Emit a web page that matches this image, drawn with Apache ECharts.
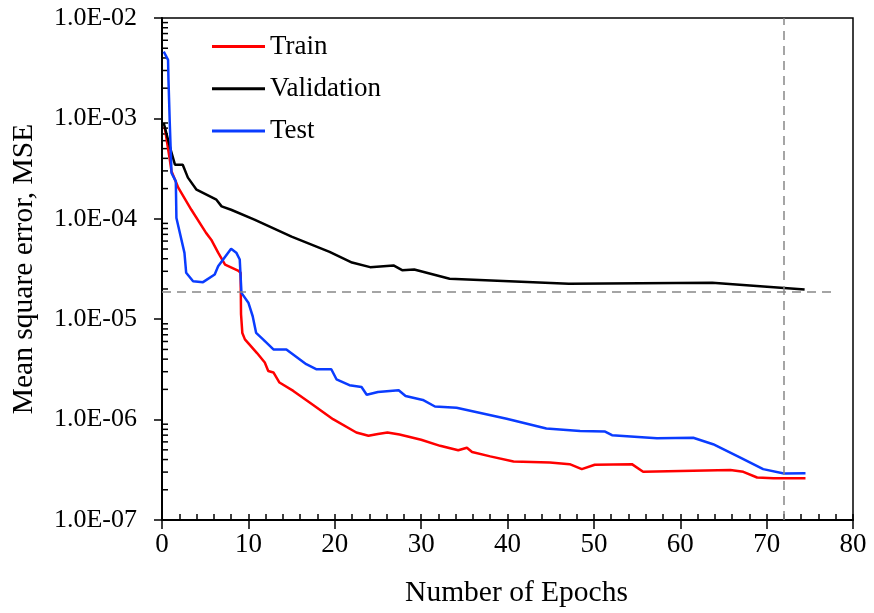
<!DOCTYPE html>
<html><head><meta charset="utf-8">
<script src="https://cdn.jsdelivr.net/npm/echarts@6/dist/echarts.min.js"></script>
<style>html,body{margin:0;padding:0;background:#fff}#c{width:874px;height:613px}</style>
</head><body><div id="c"></div>
<script>
const seriesNames = ['Train', 'Validation', 'Test'];
const trainData = [[0.3,8.3e-4],[0.9,3.9e-4],[1.1,2.97e-4],[1.9,2.03e-4],[3.4,1.23e-4],[5.1,7.24e-5],[5.7,6.2e-5],[6.5,4.6e-5],[7.3,3.5e-5],[8.8,3.05e-5],[9.1,2.9e-5],[9.15,1.12e-5],[9.3,7.3e-6],[9.6,6.3e-6],[11.0,4.6e-6],[11.9,3.7e-6],[12.3,3.05e-6],[12.9,2.95e-6],[13.6,2.34e-6],[15.2,1.93e-6],[17.5,1.4e-6],[19.8,1.01e-6],[22.5,7.44e-7],[23.9,6.9e-7],[25,7.2e-7],[26.1,7.44e-7],[27.5,7.1e-7],[30,6.3e-7],[32.2,5.48e-7],[34.3,4.95e-7],[35.3,5.25e-7],[35.9,4.75e-7],[38,4.3e-7],[40.7,3.83e-7],[44.9,3.74e-7],[47.2,3.6e-7],[48.6,3.21e-7],[50.1,3.55e-7],[54.4,3.6e-7],[55.7,3.02e-7],[65.8,3.14e-7],[67.3,3.02e-7],[68.9,2.65e-7],[70.8,2.6e-7],[74.5,2.6e-7]];
const validationData = [[0.2,9.0e-4],[1.0,4.9e-4],[1.5,3.46e-4],[2.4,3.46e-4],[3.0,2.57e-4],[4.0,1.95e-4],[6.3,1.55e-4],[6.9,1.33e-4],[8.0,1.23e-4],[10.7,9.8e-5],[15,6.65e-5],[19.4,4.69e-5],[22,3.67e-5],[24.1,3.30e-5],[26.8,3.43e-5],[27.8,3.08e-5],[29.2,3.13e-5],[33.3,2.53e-5],[47.1,2.25e-5],[63.7,2.31e-5],[74.4,1.98e-5]];
const testData = [[0.2,4.62e-3],[0.7,3.83e-3],[0.75,2.42e-3],[0.9,9.0e-4],[1.1,2.86e-4],[1.6,2.36e-4],[1.67,1.02e-4],[2.6,4.58e-5],[2.8,2.9e-5],[3.6,2.39e-5],[4.75,2.34e-5],[6.1,2.79e-5],[6.5,3.37e-5],[8.0,5.02e-5],[8.6,4.6e-5],[9.0,3.93e-5],[9.2,1.83e-5],[10.0,1.46e-5],[10.5,1.07e-5],[10.9,7.3e-6],[11.7,6.3e-6],[12.9,5.0e-6],[14.4,5.0e-6],[16.7,3.56e-6],[17.9,3.17e-6],[19.6,3.17e-6],[20.2,2.52e-6],[21.7,2.2e-6],[23.1,2.11e-6],[23.7,1.77e-6],[25,1.88e-6],[27.4,1.96e-6],[28.2,1.72e-6],[30.2,1.57e-6],[31.6,1.35e-6],[34.1,1.31e-6],[39.9,1.02e-6],[44.5,8.15e-7],[48.4,7.72e-7],[51.3,7.6e-7],[52.1,7.0e-7],[57.3,6.53e-7],[61.5,6.6e-7],[63.8,5.69e-7],[66.9,4.2e-7],[69.6,3.21e-7],[72,2.91e-7],[74.5,2.93e-7]];
const xTickLabels = ['0','10','20','30','40','50','60','70','80'];
const yTickLabels = ['1.0E-07','1.0E-06','1.0E-05','1.0E-04','1.0E-03','1.0E-02'];
const bestEpoch = 72;
const bestValMSE = 1.86e-5;
const hLineEnd = 77.7;

const FONT = "'Liberation Serif','Times New Roman',serif";
const minorTickValues = [];
for (let d = -7; d <= -3; d++) for (let k = 2; k <= 9; k++) minorTickValues.push([0, k * Math.pow(10, d)]);

const chart = echarts.init(document.getElementById('c'), null, {renderer: 'canvas'});
const lineStyleBase = {width: 2.5};
chart.setOption({
  animation: false,
  backgroundColor: '#fff',
  grid: {left: 162, right: 21, top: 18, bottom: 92, show: true, borderColor: '#000', borderWidth: 1.5, containLabel: false},
  legend: {
    data: seriesNames, orient: 'vertical', left: 207, top: 27, itemWidth: 53, itemHeight: 3, itemGap: 13.3,
    textStyle: {fontFamily: FONT, fontSize: 27, lineHeight: 29, color: '#000'}, icon: 'rect'
  },
  xAxis: [{
    type: 'value', min: 0, max: 80, interval: 10,
    name: 'Number of Epochs', nameLocation: 'middle', nameGap: 58,
    nameTextStyle: {fontFamily: FONT, fontSize: 29.5, color: '#000', padding: [0, 0, 0, 18]},
    axisLine: {lineStyle: {color: '#000', width: 2}},
    axisTick: {inside: true, length: 6, lineStyle: {color: '#000', width: 1.5}},
    minorTick: {show: true, splitNumber: 5, length: 6, lineStyle: {color: '#000', width: 1.5}},
    axisLabel: {fontFamily: FONT, fontSize: 27, color: '#000', margin: 11, formatter: (v) => xTickLabels[Math.round(v / 10)]},
    splitLine: {show: false}
  }, {
    type: 'value', min: 0, max: 80, interval: 10, position: 'bottom',
    axisLine: {show: false},
    axisTick: {inside: false, length: 9, lineStyle: {color: '#000', width: 1.5}},
    axisLabel: {show: false}, splitLine: {show: false}
  }],
  yAxis: {
    type: 'log', logBase: 10, min: 1e-7, max: 1e-2,
    name: 'Mean square error, MSE', nameLocation: 'middle', nameGap: 123,
    nameTextStyle: {fontFamily: FONT, fontSize: 29.5, color: '#000'},
    axisLine: {lineStyle: {color: '#000', width: 2}},
    axisTick: {inside: false, length: 8, lineStyle: {color: '#000', width: 1.5}},
    axisLabel: {fontFamily: FONT, fontSize: 26, color: '#000', margin: 25,
      formatter: (v) => yTickLabels[Math.round(Math.log10(v)) + 7]},
    splitLine: {show: false}
  },
  series: [
    {name: 'Train', type: 'line', data: trainData, showSymbol: false, symbol: 'none', smooth: false,
      lineStyle: Object.assign({color: '#ff0000'}, lineStyleBase), itemStyle: {color: '#ff0000'},
      markLine: {silent: true, symbol: 'none', label: {show: false},
        lineStyle: {color: '#888', type: [9, 6], width: 1.5},
        data: [[{coord: [0, bestValMSE]}, {coord: [hLineEnd, bestValMSE]}], [{coord: [bestEpoch, 1e-7]}, {coord: [bestEpoch, 1e-2]}]]}},
    {name: 'Validation', type: 'line', data: validationData, showSymbol: false, symbol: 'none', smooth: false,
      lineStyle: Object.assign({color: '#000000'}, lineStyleBase), itemStyle: {color: '#000000'}},
    {name: 'Test', type: 'line', data: testData, showSymbol: false, symbol: 'none', smooth: false,
      lineStyle: Object.assign({color: '#0a3cff'}, lineStyleBase), itemStyle: {color: '#0a3cff'}},
    {name: 'minorTicks', type: 'custom', data: minorTickValues, silent: true, clip: false,
      renderItem: (params, api) => {
        const p = api.coord([api.value(0), api.value(1)]);
        return {type: 'line', shape: {x1: p[0], y1: p[1], x2: p[0] + 6, y2: p[1]}, style: {stroke: '#000', lineWidth: 1.5}};
      }}
  ]
});
</script></body></html>
